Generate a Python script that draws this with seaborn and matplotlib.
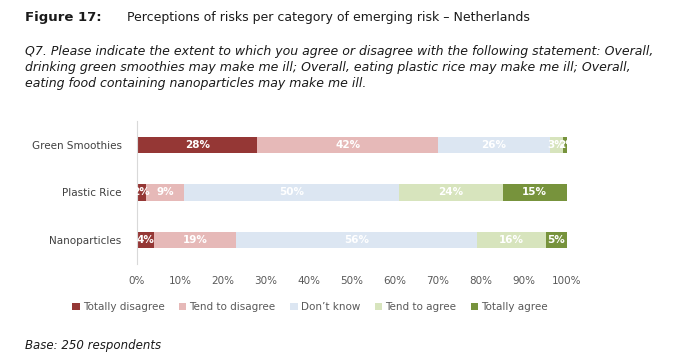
import seaborn as sns
import matplotlib.pyplot as plt
import numpy as np
import pandas as pd
from matplotlib.patches import Patch

# survey shares (%) per category
categories = ['Green Smoothies', 'Plastic Rice', 'Nanoparticles']
responses = ['Totally disagree', 'Tend to disagree', 'Don\u2019t know',
             'Tend to agree', 'Totally agree']
totally_disagree = [28, 2, 4]
tend_to_disagree = [42, 9, 19]
dont_know = [26, 50, 56]
tend_to_agree = [3, 24, 16]
totally_agree = [2, 15, 5]
colors = ['#953735', '#E6B9B8', '#DCE6F2', '#D7E4BD', '#77933C']

sns.set_theme(style='white')
plt.rcParams['font.family'] = ['DejaVu Sans']

values = np.array([totally_disagree, tend_to_disagree, dont_know,
                   tend_to_agree, totally_agree], dtype=float)
cum = values.cumsum(axis=0)

fig = plt.figure(figsize=(6.83, 3.6), dpi=100)
ax = fig.add_axes([137 / 683, 1 - 264 / 360, 430 / 683, 143 / 360])

# stacked bars: draw the cumulative totals from widest to narrowest
for i in range(len(responses) - 1, -1, -1):
    df = pd.DataFrame({'category': categories, 'value': cum[i]})
    sns.barplot(data=df, x='value', y='category', color=colors[i],
                orient='h', width=0.34, ax=ax, saturation=1,
                edgecolor='none', linewidth=0)

# percentage labels in the middle of each segment
for i in range(len(responses)):
    for j in range(len(categories)):
        left = cum[i][j] - values[i][j]
        ax.text(left + values[i][j] / 2, j, f'{int(values[i][j])}%',
                ha='center', va='center', color='white', fontsize=7.5,
                fontweight='bold')

ax.set_xlim(0, 100)
ax.set_ylim(2.5, -0.5)
ax.set_xticks(np.arange(0, 101, 10))
ax.set_xticklabels([f'{t}%' for t in range(0, 101, 10)])
ax.set_xlabel('')
ax.set_ylabel('')
ax.tick_params(axis='x', labelsize=7.5, labelcolor='#595959', length=0, pad=9)
ax.tick_params(axis='y', labelsize=7.5, labelcolor='#404040', length=0, pad=11)
for s in ['top', 'right', 'bottom']:
    ax.spines[s].set_visible(False)
ax.spines['left'].set_color('#D9D9D9')
ax.spines['left'].set_linewidth(0.8)

handles = [Patch(facecolor=c, edgecolor='none') for c in colors]
fig.legend(handles, responses, loc='center', bbox_to_anchor=(310 / 683, 1 - 307 / 360),
           ncol=5, frameon=False, fontsize=7.5, handlelength=0.7, handleheight=0.7,
           handletextpad=0.3, columnspacing=1.4, labelcolor='#595959')

fig.text(25 / 683, 1 - 18 / 360, 'Figure 17:', fontsize=9.5, fontweight='bold',
         va='center', ha='left', color='#1a1a1a')
fig.text(127 / 683, 1 - 18 / 360,
         'Perceptions of risks per category of emerging risk \u2013 Netherlands',
         fontsize=9, va='center', ha='left', color='#1a1a1a')
subtitle = [
    'Q7. Please indicate the extent to which you agree or disagree with the following statement: Overall,',
    'drinking green smoothies may make me ill; Overall, eating plastic rice may make me ill; Overall,',
    'eating food containing nanoparticles may make me ill.',
]
for k, line in enumerate(subtitle):
    fig.text(25 / 683, 1 - (52 + 16 * k) / 360, line, fontsize=9, style='italic',
             va='center', ha='left', color='#1a1a1a')
fig.text(25 / 683, 1 - 345 / 360, 'Base: 250 respondents', fontsize=8.5,
         style='italic', va='center', ha='left', color='#1a1a1a')

fig.savefig('out.png', dpi=100, facecolor='white')
